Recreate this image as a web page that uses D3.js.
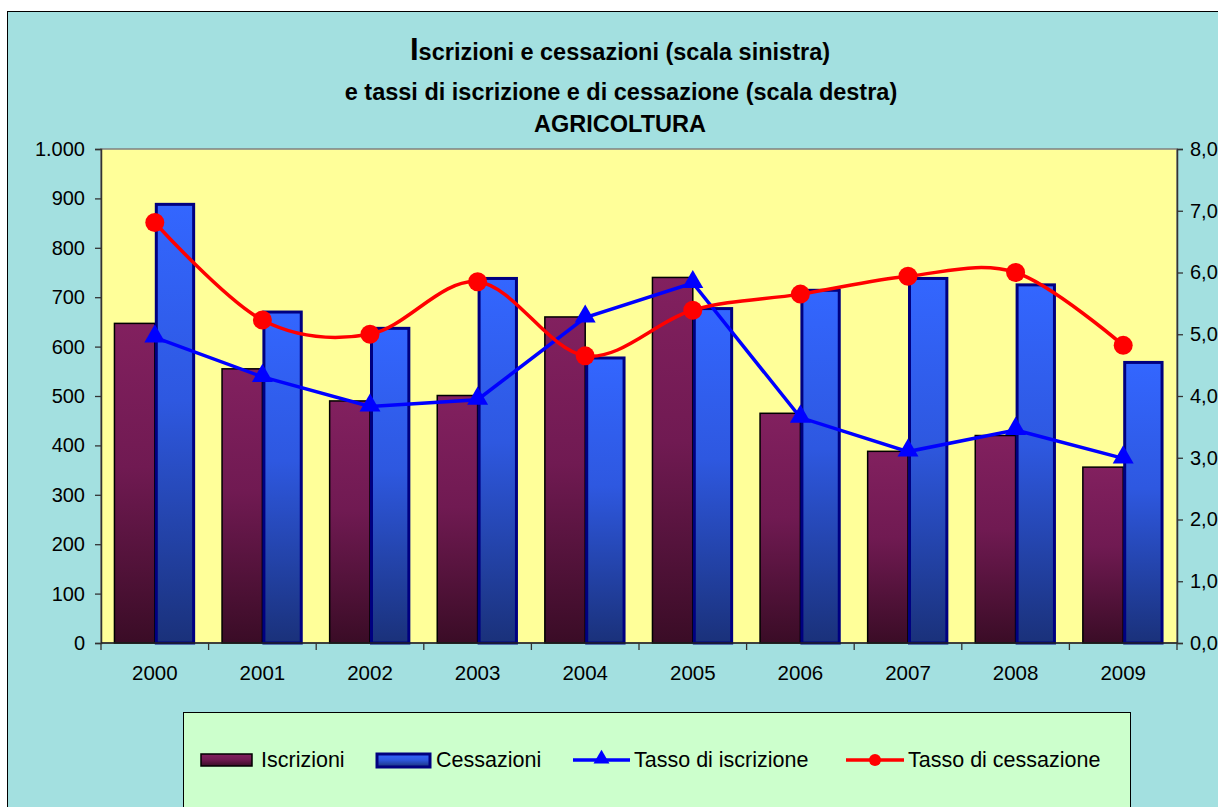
<!DOCTYPE html>
<html><head><meta charset="utf-8">
<script src="https://cdn.jsdelivr.net/npm/d3@7"></script>
<style>body{margin:0;background:#fff;}svg{display:block;font-family:Arial,"Liberation Sans",sans-serif;}</style>
</head><body><svg id="c" width="1218" height="807"></svg>
<script>
const years = ["2000","2001","2002","2003","2004","2005","2006","2007","2008","2009"];
const iscrizioni = [647, 555, 490, 501, 660, 740, 465, 388, 420, 356];
const cessazioni = [891, 673, 640, 741, 580, 680, 717, 741, 728, 571];
const tassoIscrizione = [4.95, 4.31, 3.83, 3.94, 5.27, 5.83, 3.65, 3.10, 3.45, 2.99];
const tassoCessazione = [6.81, 5.23, 5.00, 5.85, 4.65, 5.39, 5.65, 5.94, 6.00, 4.82];
const leftTicks = [0,100,200,300,400,500,600,700,800,900,1000];
const rightTicks = [0,1,2,3,4,5,6,7,8];
const titleLines = ["scrizioni e cessazioni (scala sinistra)", "e tassi di iscrizione e di cessazione (scala destra)", "AGRICOLTURA"];
const legendLabels = ["Iscrizioni","Cessazioni","Tasso di iscrizione","Tasso di cessazione"];

const loc = d3.formatLocale({decimal:",", thousands:".", grouping:[3], currency:["€",""]});
const fmtL = loc.format(",d"), fmtR = loc.format(",.2f");

const svg = d3.select("#c");
const defs = svg.append("defs");
const g1 = defs.append("linearGradient").attr("id","gI").attr("x1",0).attr("y1",0).attr("x2",0).attr("y2",1);
g1.append("stop").attr("offset","0%").attr("stop-color","#82205F");
g1.append("stop").attr("offset","45%").attr("stop-color","#701A52");
g1.append("stop").attr("offset","100%").attr("stop-color","#3A0C26");
const g2 = defs.append("linearGradient").attr("id","gC").attr("x1",0).attr("y1",0).attr("x2",0).attr("y2",1);
g2.append("stop").attr("offset","0%").attr("stop-color","#3366FF");
g2.append("stop").attr("offset","45%").attr("stop-color","#2E58E0");
g2.append("stop").attr("offset","100%").attr("stop-color","#1A317A");

// chart area
svg.append("rect").attr("x",7.5).attr("y",11.5).attr("width",1250).attr("height",850)
  .attr("fill","#A3E0E0").attr("stroke","#000").attr("stroke-width",1);

const L=101, R=1177, T=149, B=643;
const x = d3.scaleBand().domain(years).range([L,R]).paddingInner(0.25).paddingOuter(0.125);
const xs = d3.scaleBand().domain(["I","C"]).range([0,x.bandwidth()]);
const xb = d3.scaleBand().domain(years).range([L,R]);
const yL = d3.scaleLinear().domain([0,1000]).range([B,T]);
const yR = d3.scaleLinear().domain([0,8]).range([B,T]);

svg.append("rect").attr("x",L).attr("y",T).attr("width",R-L).attr("height",B-T)
  .attr("fill","#FFFF99").attr("stroke","#808080").attr("stroke-width",1.5);

// title
const tt = svg.append("text").attr("text-anchor","middle").attr("font-weight","bold").attr("fill","#000");
const t1 = tt.append("tspan").attr("x",620).attr("y",60);
t1.append("tspan").attr("font-size",31).text("I");
t1.append("tspan").attr("font-size",23.5).text(titleLines[0]);
tt.append("tspan").attr("x",621).attr("y",100).attr("font-size",23.5).text(titleLines[1]);
tt.append("tspan").attr("x",620).attr("y",132).attr("font-size",23.5).text(titleLines[2]);

// bars
const grp = svg.append("g").selectAll("g").data(years).join("g").attr("transform",d=>`translate(${x(d)},0)`);
grp.append("rect").attr("x",xs("I")).attr("width",xs.bandwidth())
  .attr("y",(d,i)=>yL(iscrizioni[i])).attr("height",(d,i)=>B-yL(iscrizioni[i]))
  .attr("fill","url(#gI)").attr("stroke","#000").attr("stroke-width",1.5);
grp.append("rect").attr("x",xs("C")+1.5).attr("width",xs.bandwidth()-3)
  .attr("y",(d,i)=>yL(cessazioni[i])+1.5).attr("height",(d,i)=>B-yL(cessazioni[i])-1.5)
  .attr("fill","url(#gC)").attr("stroke","#000080").attr("stroke-width",3);

// axes
const axL = svg.append("g").attr("transform",`translate(${L},0)`)
  .call(d3.axisLeft(yL).tickValues(leftTicks).tickFormat(fmtL).tickSize(6).tickPadding(10));
const axR = svg.append("g").attr("transform",`translate(${R},0)`)
  .call(d3.axisRight(yR).tickValues(rightTicks).tickFormat(fmtR).tickSize(6).tickPadding(7));
const axB = svg.append("g").attr("transform",`translate(0,${B})`)
  .call(d3.axisBottom(xb).tickSize(0).tickPadding(22));
[axL,axR,axB].forEach(a=>{a.selectAll("text").attr("font-size",20).attr("fill","#000").attr("font-family","Arial,'Liberation Sans',sans-serif");
  a.selectAll("line").attr("stroke","#333").attr("stroke-width",1.3); a.select(".domain").attr("stroke","#333").attr("stroke-width",1.5);});
axB.selectAll("text").attr("font-size",20.5);
axB.select(".domain").remove();
svg.append("line").attr("x1",L).attr("x2",R).attr("y1",B).attr("y2",B).attr("stroke","#222").attr("stroke-width",1.5);
// category boundary ticks
svg.append("g").selectAll("line").data(d3.range(years.length+1)).join("line")
  .attr("x1",i=>L+i*xb.step()).attr("x2",i=>L+i*xb.step()).attr("y1",B).attr("y2",B+7)
  .attr("stroke","#333").attr("stroke-width",1.3);

const cx = d => xb(d)+xb.bandwidth()/2;
// blue line
svg.append("path").datum(tassoIscrizione)
  .attr("d",d3.line().x((d,i)=>cx(years[i])).y(d=>yR(d)))
  .attr("fill","none").attr("stroke","#0000FF").attr("stroke-width",3.5);
const tri = d3.symbol().type(d3.symbolTriangle).size(190);
svg.append("g").selectAll("path").data(tassoIscrizione).join("path")
  .attr("d",tri).attr("transform",(d,i)=>`translate(${cx(years[i])},${yR(d)-1})`).attr("fill","#0000FF");
// red line
svg.append("path").datum(tassoCessazione)
  .attr("d",d3.line().x((d,i)=>cx(years[i])).y(d=>yR(d)).curve(d3.curveCardinal.tension(0)))
  .attr("fill","none").attr("stroke","#FF0000").attr("stroke-width",3.5);
svg.append("g").selectAll("circle").data(tassoCessazione).join("circle")
  .attr("cx",(d,i)=>cx(years[i])).attr("cy",d=>yR(d)).attr("r",9.5).attr("fill","#FF0000");

// legend
svg.append("rect").attr("x",183.5).attr("y",712.5).attr("width",947).attr("height",120)
  .attr("fill","#CCFFCC").attr("stroke","#000").attr("stroke-width",1);
const ly = 760;
const lg = svg.append("g");
lg.append("rect").attr("x",201).attr("y",ly-6).attr("width",51).attr("height",12).attr("fill","url(#gI)").attr("stroke","#000").attr("stroke-width",1.5);
lg.append("rect").attr("x",377).attr("y",ly-6).attr("width",53).attr("height",13).attr("fill","url(#gC)").attr("stroke","#000080").attr("stroke-width",3);
lg.append("line").attr("x1",573).attr("x2",630).attr("y1",ly).attr("y2",ly).attr("stroke","#0000FF").attr("stroke-width",3.5);
lg.append("path").attr("d",d3.symbol().type(d3.symbolTriangle).size(110)).attr("transform",`translate(601.5,${ly-1})`).attr("fill","#0000FF");
lg.append("line").attr("x1",846).attr("x2",904).attr("y1",ly).attr("y2",ly).attr("stroke","#FF0000").attr("stroke-width",3.5);
lg.append("circle").attr("cx",875).attr("cy",ly).attr("r",6).attr("fill","#FF0000");
const lx = [261,436,634,908];
lg.selectAll("text").data(legendLabels).join("text").attr("x",(d,i)=>lx[i]).attr("y",ly+7)
  .attr("font-size",21.5).attr("fill","#000").text(d=>d);
</script></body></html>
